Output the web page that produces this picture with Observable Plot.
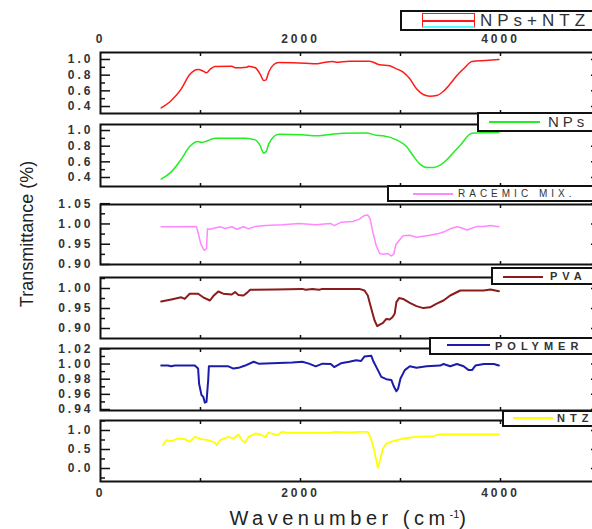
<!DOCTYPE html>
<html><head><meta charset="utf-8">
<script src="https://cdn.jsdelivr.net/npm/d3@7"></script>
<script src="https://cdn.jsdelivr.net/npm/@observablehq/plot@0.6"></script>
<style>
html,body{margin:0;padding:0;background:#fff;overflow:hidden;}
#wrap{position:relative;width:592px;height:529px;overflow:hidden;font-family:"Liberation Sans",Arial,sans-serif;background:#fff;}
.panel{position:absolute;left:0;}
.leg{position:absolute;box-sizing:border-box;border:2px solid #111;background:#fff;}
.leg .sw{position:absolute;}
.leg .tx{position:absolute;white-space:nowrap;color:#333;}
.ttl{position:absolute;white-space:nowrap;color:#222;}
</style></head><body><div id="wrap"></div>
<script>
// ---------- data (wavenumber cm^-1, transmittance) ----------
const seriesNames = ["NPs+NTZ", "NPs", "RACEMIC MIX.", "PVA", "POLYMER", "NTZ"];

const npsNtz = [[607,0.383],[708,0.477],[808,0.626],[892,0.809],[976,0.872],[1027,0.851],[1060,0.830],[1094,0.872],[1144,0.911],[1312,0.915],[1346,0.894],[1464,0.902],[1480,0.915],[1548,0.894],[1598,0.809],[1632,0.732],[1655,0.740],[1682,0.838],[1733,0.936],[1783,0.962],[2052,0.953],[2152,0.945],[2220,0.957],[2320,0.974],[2354,0.966],[2488,0.979],[2690,0.979],[2791,0.932],[2892,0.919],[2959,0.881],[3026,0.838],[3093,0.753],[3160,0.626],[3228,0.553],[3295,0.532],[3362,0.540],[3430,0.596],[3497,0.689],[3564,0.796],[3631,0.881],[3715,0.974],[3849,0.987],[3984,1.0]];

const nps = [[607,0.379],[708,0.472],[808,0.634],[892,0.796],[976,0.860],[1010,0.847],[1060,0.864],[1144,0.902],[1447,0.902],[1548,0.881],[1598,0.804],[1632,0.711],[1655,0.728],[1682,0.826],[1733,0.923],[1783,0.953],[2018,0.945],[2152,0.932],[2421,0.966],[2656,0.970],[2757,0.940],[2825,0.932],[2959,0.881],[3060,0.796],[3127,0.677],[3194,0.570],[3261,0.528],[3329,0.528],[3396,0.557],[3463,0.626],[3530,0.719],[3598,0.813],[3715,0.966],[3984,0.974]];

const racemic = [[607,0.993],[742,0.993],[926,0.994],[960,0.993],[976,0.979],[1003,0.951],[1037,0.935],[1060,0.939],[1070,0.988],[1094,0.987],[1144,0.990],[1195,0.993],[1245,0.989],[1312,0.993],[1363,0.987],[1430,0.993],[1480,0.988],[1548,0.994],[1649,0.996],[1817,0.998],[1985,1.001],[2152,0.998],[2303,1.001],[2337,0.996],[2404,1.004],[2522,1.006],[2589,1.012],[2640,1.021],[2673,1.022],[2697,1.012],[2724,0.979],[2757,0.947],[2791,0.927],[2825,0.925],[2875,0.927],[2908,0.921],[2932,0.925],[2952,0.948],[2976,0.956],[3026,0.971],[3093,0.972],[3160,0.967],[3261,0.971],[3362,0.975],[3430,0.980],[3497,0.988],[3564,0.993],[3614,0.990],[3665,0.985],[3699,0.988],[3766,0.994],[3833,0.994],[3900,0.996],[3984,0.993]];

const pva = [[607,0.9675],[708,0.9725],[808,0.978],[842,0.974],[892,0.987],[976,0.987],[1027,0.978],[1094,0.970],[1128,0.981],[1178,0.9925],[1228,0.987],[1312,0.985],[1346,0.991],[1380,0.984],[1430,0.9825],[1464,0.989],[1497,0.997],[1749,0.9975],[2018,0.999],[2052,0.997],[2119,0.999],[2186,0.997],[2220,0.999],[2589,0.999],[2640,0.995],[2673,0.9825],[2690,0.966],[2717,0.941],[2741,0.920],[2767,0.906],[2825,0.914],[2858,0.924],[2892,0.9225],[2919,0.928],[2942,0.937],[2959,0.966],[2986,0.976],[3026,0.974],[3093,0.964],[3160,0.956],[3228,0.951],[3295,0.953],[3362,0.962],[3430,0.970],[3497,0.9825],[3598,0.995],[3833,0.995],[3900,0.9975],[3984,0.993]];

const polymer = [[607,0.998],[674,0.998],[708,0.997],[742,0.998],[943,0.998],[976,0.994],[986,0.974],[1010,0.959],[1027,0.957],[1044,0.949],[1060,0.950],[1077,0.979],[1084,0.997],[1144,0.997],[1279,0.997],[1329,0.994],[1380,0.995],[1447,0.998],[1531,1.003],[1581,1.0005],[1917,1.002],[2018,1.003],[2085,1.0005],[2152,0.997],[2220,1.0005],[2303,1.000],[2337,0.996],[2404,1.001],[2488,1.003],[2556,1.005],[2606,1.004],[2640,1.010],[2707,1.011],[2731,1.003],[2774,0.992],[2808,0.983],[2858,0.980],[2908,0.979],[2935,0.970],[2959,0.964],[2976,0.9675],[3000,0.981],[3043,0.992],[3093,0.997],[3160,0.995],[3261,0.997],[3396,0.998],[3430,1.000],[3497,0.997],[3564,1.000],[3631,0.997],[3682,0.992],[3715,0.992],[3749,0.998],[3833,1.000],[3934,1.000],[3984,0.998]];

const ntz = [[624,0.614],[657,0.746],[708,0.719],[775,0.789],[842,0.772],[892,0.702],[943,0.833],[1010,0.772],[1077,0.746],[1144,0.684],[1161,0.614],[1195,0.746],[1279,0.833],[1329,0.789],[1380,0.895],[1413,0.746],[1447,0.684],[1480,0.833],[1548,0.921],[1598,0.895],[1649,0.833],[1682,0.947],[1766,0.877],[1817,0.965],[1884,0.939],[2287,0.939],[2354,0.965],[2488,0.947],[2589,0.965],[2673,0.965],[2697,0.833],[2724,0.614],[2750,0.307],[2774,0.018],[2791,0.175],[2825,0.526],[2858,0.658],[2925,0.719],[3026,0.789],[3160,0.833],[3329,0.851],[3379,0.895],[3665,0.895],[3984,0.895]];

const seriesData = [npsNtz, nps, racemic, pva, polymer, ntz];

const xTickLabels = [0, 2000, 4000];
const xInnerTicks = [1000, 2000, 3000, 4000];
const yMajor = [[0.4,0.6,0.8,1.0],[0.4,0.6,0.8,1.0],[0.90,0.95,1.00,1.05],[0.90,0.95,1.00],[0.94,0.96,0.98,1.00,1.02],[0.0,0.5,1.0]];
const yMinor = [[0.5,0.7,0.9],[0.5,0.7,0.9],[0.925,0.975,1.025],[0.925,0.975,1.025],[0.95,0.97,0.99,1.01],[-0.25,0.25,0.75,1.25]];
const yDomains = [[0.311,1.089],[0.285,1.077],[0.90,1.048],[0.875,1.0275],[0.9387,1.0205],[-0.342,1.263]];
const yFormats = [".1f",".1f",".2f",".2f",".2f",".1f"];

// ---------- styles / layout ----------
const colors = ["#ff1a1a", "#22ee22", "#ff88ff", "#8b1c1c", "#1c1caa", "#ffff00"];
const widths = [1.5, 1.5, 1.5, 2, 2, 1.8];
const curves = ["monotone-x","monotone-x","linear","linear","linear","linear"];
const panelTop = [52, 124, 204, 277, 348, 420];
const panelBottom = [113, 186, 264, 338, 410, 481];

const wrap = document.getElementById("wrap");
const labelStyle = {fontSize: 12, fontWeight: "bold", fill: "#333"};

seriesData.forEach((data, i) => {
  const mt = i === 0 ? 40 : 2, mb = i === 5 ? 26 : 2;
  const h = panelBottom[i] - panelTop[i] + mt + mb;
  const tickStyle = {fill: "none", label: null, stroke: "#111", strokeWidth: 1.5};
  const marks = [
    Plot.line(data, {x: d => d[0], y: d => d[1], stroke: colors[i], strokeWidth: widths[i], curve: curves[i]}),
    Plot.axisY(yMajor[i], {anchor: "left", tickSize: -10, ...tickStyle}),
    Plot.axisY(yMinor[i], {anchor: "left", tickSize: -5, ...tickStyle}),
    Plot.axisY(yMajor[i], {anchor: "right", tickSize: -10, ...tickStyle}),
    Plot.axisY(yMinor[i], {anchor: "right", tickSize: -5, ...tickStyle}),
    Plot.axisY(yMajor[i], {anchor: "left", tickSize: 0, tickPadding: 7, label: null, tickFormat: d3.format(yFormats[i]), ...labelStyle}),
    Plot.axisX(xInnerTicks, {anchor: "top", tickSize: -3, ...tickStyle}),
    Plot.axisX(xInnerTicks, {anchor: "bottom", tickSize: -3, ...tickStyle}),
    Plot.frame({stroke: "#111", strokeWidth: 2})
  ];
  if (i === 0) marks.push(Plot.axisX(xTickLabels, {anchor: "top", tickSize: 0, tickPadding: 10, label: null, tickFormat: d3.format("d"), ...labelStyle}));
  if (i === 5) marks.push(Plot.axisX(xTickLabels, {anchor: "bottom", tickSize: 0, tickPadding: 7, label: null, tickFormat: d3.format("d"), ...labelStyle}));
  const chart = Plot.plot({
    width: 600, height: h,
    marginLeft: 100, marginRight: 0, marginTop: mt, marginBottom: mb,
    x: {domain: [0, 5000]},
    y: {domain: yDomains[i]},
    style: {maxWidth: "none", overflow: "visible", background: "transparent", fontFamily: "'Liberation Sans', Arial, sans-serif", letterSpacing: "3px"},
    marks
  });
  chart.classList.add("panel");
  chart.style.top = (panelTop[i] - mt) + "px";
  wrap.appendChild(chart);
});

// ---------- legends ----------
const legLayout = [
  {left: 400, top: 10, h: 21, sx1: 422, sx2: 475, sy: 21, tx: 480, fs: 17, ls: 5, fw: "normal"},
  {left: 477, top: 112, h: 20, sx1: 489, sx2: 540, sy: 122, tx: 548, fs: 15, ls: 4, fw: "normal"},
  {left: 387, top: 185, h: 17, sx1: 413, sx2: 453, sy: 194, tx: 458, fs: 10, ls: 4, fw: "normal"},
  {left: 491, top: 267, h: 18, sx1: 503, sx2: 543, sy: 277, tx: 550, fs: 11, ls: 5, fw: "bold"},
  {left: 429, top: 337, h: 18, sx1: 447, sx2: 490, sy: 345, tx: 495, fs: 11, ls: 5, fw: "bold"},
  {left: 502, top: 410, h: 17, sx1: 513, sx2: 553, sy: 418, tx: 557, fs: 11, ls: 5, fw: "bold"}
];
seriesNames.forEach((name, i) => {
  const L = legLayout[i];
  const box = document.createElement("div");
  box.className = "leg";
  Object.assign(box.style, {left: L.left + "px", top: L.top + "px", width: (600 - L.left) + "px", height: L.h + "px"});
  const ox = L.left + 2, oy = L.top + 2;
  if (i === 0) {
    const r = document.createElement("div");
    r.className = "sw";
    Object.assign(r.style, {left: (L.sx1 - ox) + "px", top: (13 - oy) + "px", width: (L.sx2 - L.sx1) + "px", height: "15px",
      boxSizing: "border-box", border: "1.5px solid " + colors[i], borderBottom: "2px solid #5ff"});
    const m = document.createElement("div");
    m.className = "sw";
    Object.assign(m.style, {left: "0px", top: "6px", width: "100%", height: "1.5px", background: colors[i]});
    r.appendChild(m);
    box.appendChild(r);
  } else {
    const s = document.createElement("div");
    s.className = "sw";
    Object.assign(s.style, {left: (L.sx1 - ox) + "px", top: (L.sy - oy - 1) + "px", width: (L.sx2 - L.sx1) + "px", height: "2px", background: colors[i]});
    box.appendChild(s);
  }
  const t = document.createElement("div");
  t.className = "tx";
  t.textContent = name;
  Object.assign(t.style, {left: (L.tx - ox) + "px", top: "0px", height: (L.h - 4) + "px", lineHeight: (L.h - 4) + "px",
    fontSize: L.fs + "px", letterSpacing: L.ls + "px", fontWeight: L.fw});
  box.appendChild(t);
  wrap.appendChild(box);
});

// ---------- titles ----------
const yt = document.createElement("div");
yt.className = "ttl";
yt.textContent = "Transmittance (%)";
Object.assign(yt.style, {left: "27px", top: "234px", fontSize: "18px", transform: "translate(-50%,-50%) rotate(-90deg)"});
wrap.appendChild(yt);

const xt = document.createElement("div");
xt.className = "ttl";
xt.innerHTML = "Wavenumber (cm<span style='font-size:11px;letter-spacing:0;vertical-align:7px'>-1</span>)";
Object.assign(xt.style, {left: "350px", top: "516px", fontSize: "20px", letterSpacing: "4.5px", transform: "translate(-50%,-50%)", lineHeight: "22px"});
wrap.appendChild(xt);
</script></body></html>
